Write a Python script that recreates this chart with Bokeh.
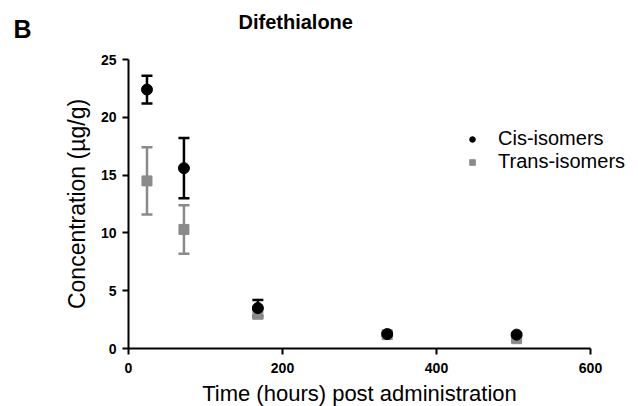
from bokeh.plotting import figure
from bokeh.models import Range1d, Label, Legend, LegendItem, Whisker, ColumnDataSource, FixedTicker
from bokeh.embed import file_html
from bokeh.resources import INLINE

# Data
hours = [24, 72, 168, 336, 504]
cis_mean = [22.4, 15.6, 3.5, 1.25, 1.2]
cis_err = [1.2, 2.6, 0.7, 0.15, 0.1]
trans_mean = [14.5, 10.3, 3.0, 1.2, 0.85]
trans_err = [2.9, 2.1, 0.4, 0.1, 0.1]
x_ticks = [0, 200, 400, 600]
y_ticks = [0, 5, 10, 15, 20, 25]

BLACK = "#000000"
GRAY = "#8a8a8a"
FONT = "Liberation Sans"

W, H = 636, 406
# pixel layout of the axes inside the canvas
AX_L, AX_R = 128, 590   # x = 0 .. 600
AX_T, AX_B = 59, 348    # y = 25 .. 0
XMAX, YMAX = 600, 25
sx = XMAX / (AX_R - AX_L)
sy = YMAX / (AX_B - AX_T)

p = figure(width=W, height=H, output_backend="svg", toolbar_location=None,
           x_range=Range1d(-AX_L * sx, (W - AX_L) * sx),
           y_range=Range1d(-(H - AX_B) * sy, AX_B * sy))
p.title.visible = False
p.min_border = 0
p.min_border_left = 0
p.min_border_right = 0
p.min_border_top = 0
p.min_border_bottom = 0
p.outline_line_color = None
p.grid.visible = False
p.background_fill_color = "white"
p.border_fill_color = "white"

for ax in (p.xaxis[0], p.yaxis[0]):
    ax.fixed_location = 0
    ax.axis_line_width = 2
    ax.axis_line_color = BLACK
    ax.major_tick_line_width = 2
    ax.major_tick_out = 6
    ax.major_tick_in = 0
    ax.minor_tick_out = 0
    ax.minor_tick_in = 0
    ax.major_label_text_font = FONT
    ax.major_label_text_font_style = "bold"
    ax.major_label_text_font_size = "14px"
    ax.major_label_text_color = BLACK
    ax.axis_label_text_font = FONT
    ax.axis_label_text_font_style = "normal"
    ax.axis_label_text_color = BLACK

p.xaxis.bounds = (0, XMAX)
p.yaxis.bounds = (0, YMAX)
p.xaxis.ticker = FixedTicker(ticks=x_ticks)
p.yaxis.ticker = FixedTicker(ticks=y_ticks)
p.xaxis.axis_label = "Time (hours) post administration"
p.yaxis.axis_label = "Concentration (\u00b5g/g)"
p.xaxis.axis_label_text_font_size = "22px"
p.yaxis.axis_label_text_font_size = "23px"
p.xaxis.major_label_standoff = 8
p.yaxis.major_label_standoff = 6
p.xaxis.axis_label_standoff = 5
p.yaxis.axis_label_standoff = 8

trans_src = ColumnDataSource(dict(x=hours, y=trans_mean,
                                  lo=[m - e for m, e in zip(trans_mean, trans_err)],
                                  hi=[m + e for m, e in zip(trans_mean, trans_err)]))
cis_src = ColumnDataSource(dict(x=hours, y=cis_mean,
                                lo=[m - e for m, e in zip(cis_mean, cis_err)],
                                hi=[m + e for m, e in zip(cis_mean, cis_err)]))

for src, col in ((trans_src, GRAY), (cis_src, BLACK)):
    w = Whisker(source=src, base="x", lower="lo", upper="hi", dimension="height",
                line_color=col, line_width=2.5)
    w.upper_head.size = 11
    w.lower_head.size = 11
    w.upper_head.line_color = col
    w.lower_head.line_color = col
    w.upper_head.line_width = 2.5
    w.lower_head.line_width = 2.5
    p.add_layout(w)

r_trans = p.scatter("x", "y", source=trans_src, marker="square", size=10,
                    fill_color=GRAY, line_color=GRAY)
r_cis = p.scatter("x", "y", source=cis_src, marker="circle", size=11,
                  fill_color=BLACK, line_color=BLACK)

legend = Legend(items=[LegendItem(label="Cis-isomers", renderers=[r_cis]),
                       LegendItem(label="Trans-isomers", renderers=[r_trans])],
                location=(465, 233))
legend.background_fill_alpha = 0
legend.border_line_alpha = 0
legend.label_text_font = FONT
legend.label_text_font_size = "20px"
legend.label_text_color = BLACK
legend.glyph_width = 14
legend.glyph_height = 14
legend.label_standoff = 19
legend.spacing = 0
legend.padding = 0
legend.margin = 0
legend.label_height = 20
p.add_layout(legend, "center")

title = Label(x=238, y=H - 21, x_units="screen", y_units="screen", text="Difethialone",
              text_font=FONT, text_font_size="20px", text_font_style="bold",
              text_color=BLACK, text_baseline="alphabetic")
p.add_layout(title)

b = Label(x=13, y=H - 28, x_units="screen", y_units="screen", text="B",
          text_font=FONT, text_font_size="25px", text_font_style="bold",
          text_color=BLACK, text_baseline="alphabetic")
p.add_layout(b)

open("out.html", "w").write(file_html(p, INLINE))
